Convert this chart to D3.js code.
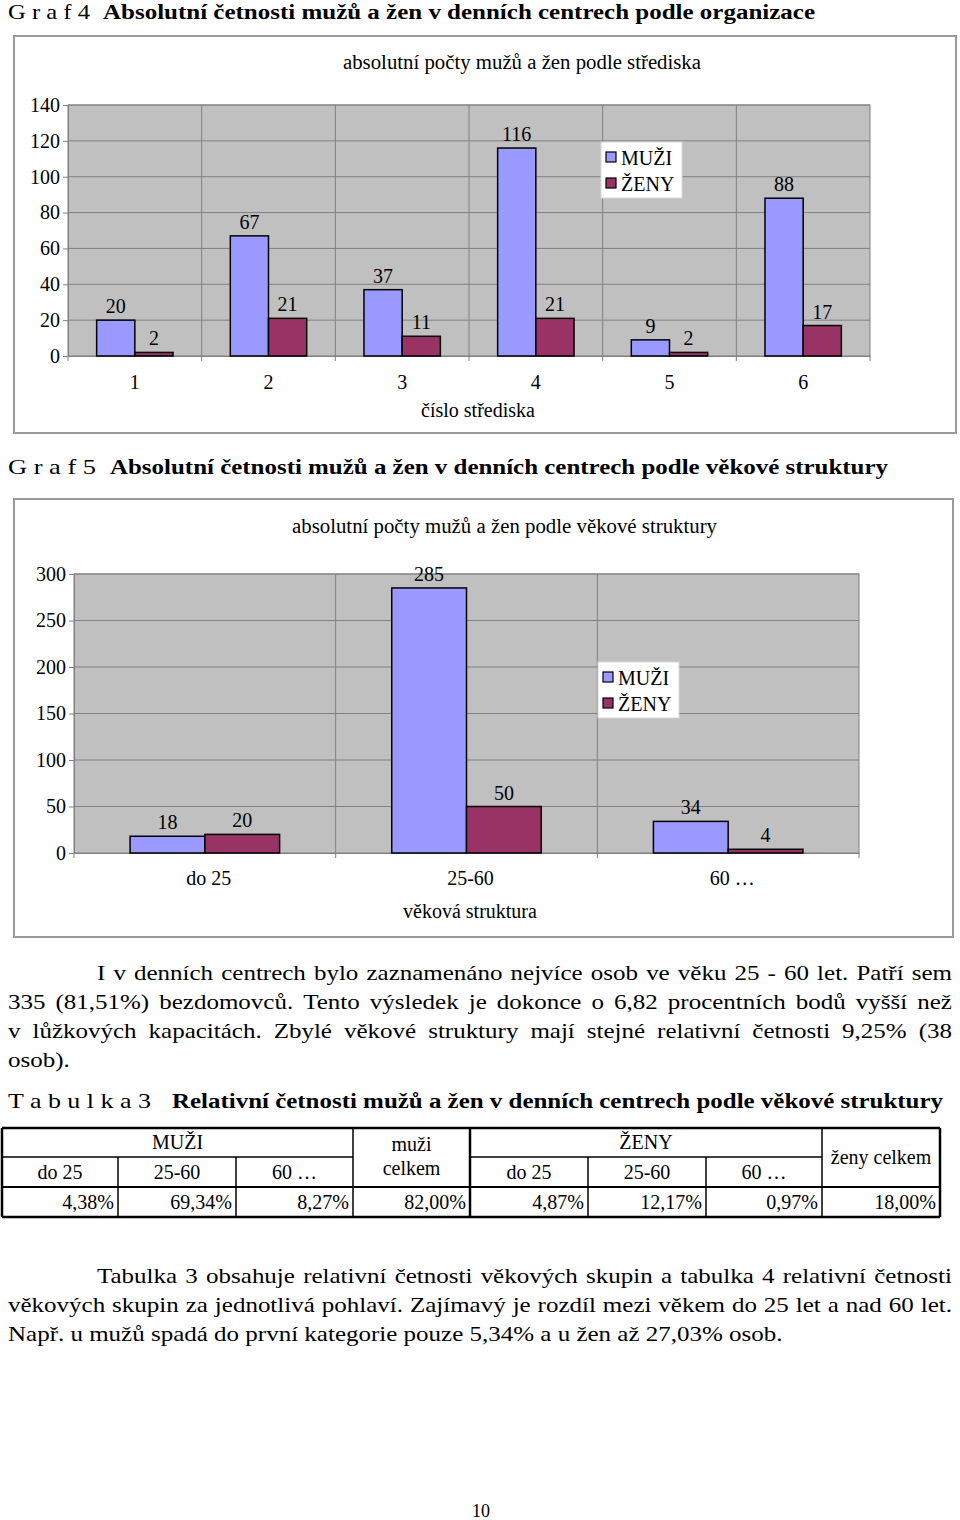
<!DOCTYPE html>
<html>
<head>
<meta charset="utf-8">
<script src="https://cdn.jsdelivr.net/npm/d3@7"></script>
<style>
  body { margin: 0; background: #fff; }
  #page { position: relative; width: 960px; height: 1520px; overflow: hidden; }
  svg { position: absolute; left: 0; top: 0; }
</style>
</head>
<body>
<div id="page"></div>
<script>
// --- data ---
const strediska = ['1', '2', '3', '4', '5', '6'];
const muziStredisko = [20, 67, 37, 116, 9, 88];
const zenyStredisko = [2, 21, 11, 21, 2, 17];

const vekoveSkupiny = ['do 25', '25-60', '60 …'];
const muziVek = [18, 285, 34];
const zenyVek = [20, 50, 4];

const serie = ['MUŽI', 'ŽENY'];

const tabulkaSkupiny = ['do 25', '25-60', '60 …'];
const tabulkaMuzi = ['4,38%', '69,34%', '8,27%'];
const tabulkaMuziCelkem = '82,00%';
const tabulkaZeny = ['4,87%', '12,17%', '0,97%'];
const tabulkaZenyCelkem = '18,00%';

const odstavec1 = [
  'I v denních centrech bylo zaznamenáno nejvíce osob ve věku 25 - 60 let. Patří sem',
  '335 (81,51%) bezdomovců. Tento výsledek je dokonce o 6,82 procentních bodů vyšší než',
  'v lůžkových kapacitách. Zbylé věkové struktury mají stejné relativní četnosti 9,25% (38',
  'osob).'
];
const odstavec2 = [
  'Tabulka 3 obsahuje relativní četnosti věkových skupin a tabulka 4 relativní četnosti',
  'věkových skupin za jednotlivá pohlaví. Zajímavý je rozdíl mezi věkem do 25 let a nad 60 let.',
  'Např. u mužů spadá do první kategorie pouze 5,34% a u žen až 27,03% osob.'
];

const font = '"Liberation Serif", "Times New Roman", Tinos, serif';
const colMuzi = '#9999FF';
const colZeny = '#993366';

const page = d3.select('#page');
const svg = page.append('svg').attr('width', 960).attr('height', 1520)
  .style('font-family', font);

// nadpisy (text v originale je vodorovne roztazeny)
const nadpis = (y, lead, leadEnd, boldX, bold, boldEnd) => {
  svg.append('text').attr('x', 8).attr('y', y).attr('font-size', 21)
    .attr('textLength', leadEnd - 8).attr('lengthAdjust', 'spacingAndGlyphs').text(lead);
  svg.append('text').attr('x', boldX).attr('y', y).attr('font-size', 20).attr('font-weight', 'bold')
    .attr('textLength', boldEnd - boldX).attr('lengthAdjust', 'spacingAndGlyphs').text(bold);
};
nadpis(19, 'G r a f 4', 90, 103, 'Absolutní četnosti mužů a žen v denních centrech podle organizace', 815);
nadpis(474, 'G r a f  5', 96, 110, 'Absolutní četnosti mužů a žen v denních centrech podle věkové struktury', 888);
nadpis(1108, 'T a b u l k a 3', 151, 172, 'Relativní četnosti mužů a žen v denních centrech podle věkové struktury', 943);

const drawChart = (cfg) => {
  const g = svg.append('g');

  g.append('rect')
    .attr('x', cfg.frame[0]).attr('y', cfg.frame[1])
    .attr('width', cfg.frame[2] - cfg.frame[0]).attr('height', cfg.frame[3] - cfg.frame[1])
    .attr('fill', '#fff').attr('stroke', '#9a9a9a').attr('stroke-width', 2);

  const x = d3.scaleBand().domain(cfg.cats).range([cfg.plot[0], cfg.plot[2]]);
  const xs = d3.scaleBand().domain(serie).range([0, x.bandwidth()]).paddingOuter(0.75);
  const y = d3.scaleLinear().domain([0, cfg.yMax]).range([cfg.plot[3], cfg.plot[1]]);
  const yTicks = d3.range(0, cfg.yMax + 1, cfg.yStep);

  // plocha grafu
  g.append('rect')
    .attr('x', cfg.plot[0]).attr('y', cfg.plot[1])
    .attr('width', cfg.plot[2] - cfg.plot[0]).attr('height', cfg.plot[3] - cfg.plot[1])
    .attr('fill', '#C0C0C0').attr('stroke', '#808080').attr('stroke-width', 1);

  g.selectAll('.hgrid')
    .data(yTicks.slice(1))
    .join('line')
      .attr('class', 'hgrid')
      .attr('x1', cfg.plot[0]).attr('x2', cfg.plot[2])
      .attr('y1', d => y(d)).attr('y2', d => y(d))
      .attr('stroke', '#808080').attr('stroke-width', 1);

  g.selectAll('.vgrid')
    .data(cfg.cats.slice(1))
    .join('line')
      .attr('class', 'vgrid')
      .attr('x1', d => x(d)).attr('x2', d => x(d))
      .attr('y1', cfg.plot[1]).attr('y2', cfg.plot[3])
      .attr('stroke', '#808080').attr('stroke-width', 1);

  // osa y
  const axisY = g.append('g')
    .attr('transform', `translate(${cfg.plot[0]},0)`)
    .call(d3.axisLeft(y).tickValues(yTicks).tickSize(5).tickPadding(3).tickSizeOuter(0));
  axisY.select('.domain').attr('stroke', '#808080');
  axisY.selectAll('.tick line').attr('stroke', '#808080');
  axisY.selectAll('.tick text').attr('font-family', font).attr('font-size', 20).attr('fill', '#000');

  // osa x
  const axisX = g.append('g')
    .attr('transform', `translate(0,${cfg.plot[3]})`)
    .call(d3.axisBottom(x).tickSize(0).tickPadding(cfg.catPad).tickSizeOuter(0));
  axisX.select('.domain').attr('stroke', '#808080');
  axisX.selectAll('.tick text').attr('font-family', font).attr('font-size', 20)
    .attr('fill', '#000').attr('dx', cfg.catDx);

  g.selectAll('.xtick')
    .data(cfg.cats.concat(['end']))
    .join('line')
      .attr('class', 'xtick')
      .attr('x1', d => d === 'end' ? cfg.plot[2] : x(d))
      .attr('x2', d => d === 'end' ? cfg.plot[2] : x(d))
      .attr('y1', cfg.plot[3]).attr('y2', cfg.plot[3] + 5)
      .attr('stroke', '#808080');

  // sloupce
  const rows = [];
  cfg.cats.forEach((c, i) => {
    rows.push({ cat: c, s: 'MUŽI', v: cfg.muzi[i] });
    rows.push({ cat: c, s: 'ŽENY', v: cfg.zeny[i] });
  });

  g.selectAll('.bar')
    .data(rows)
    .join('rect')
      .attr('class', 'bar')
      .attr('x', d => x(d.cat) + xs(d.s))
      .attr('y', d => y(d.v))
      .attr('width', xs.bandwidth())
      .attr('height', d => y(0) - y(d.v))
      .attr('fill', d => d.s === 'MUŽI' ? colMuzi : colZeny)
      .attr('stroke', '#000').attr('stroke-width', 1.5);

  g.selectAll('.val')
    .data(rows)
    .join('text')
      .attr('class', 'val')
      .attr('x', d => x(d.cat) + xs(d.s) + xs.bandwidth() / 2)
      .attr('y', d => y(d.v) - 7)
      .attr('text-anchor', 'middle')
      .attr('font-size', 20)
      .text(d => d.v);

  // titulky
  g.append('text').attr('x', cfg.titlePos[0]).attr('y', cfg.titlePos[1])
    .attr('font-size', 20).attr('textLength', cfg.titlePos[2] - cfg.titlePos[0])
    .attr('lengthAdjust', 'spacingAndGlyphs').text(cfg.title);
  g.append('text').attr('x', cfg.xTitlePos[0]).attr('y', cfg.xTitlePos[1])
    .attr('text-anchor', 'middle').attr('font-size', 20).text(cfg.xTitle);

  // legenda
  const lg = g.append('g').attr('transform', `translate(${cfg.legend[0]},${cfg.legend[1]})`);
  lg.append('rect').attr('width', 81).attr('height', 56)
    .attr('fill', '#fff').attr('stroke', '#d8d8d8').attr('stroke-width', 1);
  serie.forEach((s, i) => {
    lg.append('rect').attr('x', 5).attr('y', 10 + i * 26).attr('width', 10).attr('height', 10)
      .attr('fill', s === 'MUŽI' ? colMuzi : colZeny).attr('stroke', '#000').attr('stroke-width', 1.2);
    lg.append('text').attr('x', 20).attr('y', 23 + i * 26).attr('font-size', 20).text(s);
  });
};

drawChart({
  frame: [14, 36, 956, 433],
  plot: [68, 105, 870, 356],
  cats: strediska, muzi: muziStredisko, zeny: zenyStredisko,
  yMax: 140, yStep: 20, catPad: 19, catDx: 0,
  title: 'absolutní počty mužů a žen podle střediska', titlePos: [343, 69, 701],
  xTitle: 'číslo střediska', xTitlePos: [478, 417],
  legend: [601, 142]
});

drawChart({
  frame: [14, 499, 953, 937],
  plot: [74, 574, 859, 853],
  cats: vekoveSkupiny, muzi: muziVek, zeny: zenyVek,
  yMax: 300, yStep: 50, catPad: 18, catDx: 4,
  title: 'absolutní počty mužů a žen podle věkové struktury', titlePos: [292, 533, 717],
  xTitle: 'věková struktura', xTitlePos: [470, 918],
  legend: [598, 662]
});

// tabulka
const colX = [2, 118, 236, 353, 470, 588, 706, 822, 940];
const rowY = [1128, 1157, 1187, 1217];
const tg = svg.append('g').attr('font-size', 20);
const hLine = (x1, x2, yy, w) => tg.append('line').attr('x1', x1).attr('x2', x2)
  .attr('y1', yy).attr('y2', yy).attr('stroke', '#000').attr('stroke-width', w);
const vLine = (xx, y1, y2, w) => tg.append('line').attr('x1', xx).attr('x2', xx)
  .attr('y1', y1).attr('y2', y2).attr('stroke', '#000').attr('stroke-width', w);

hLine(colX[0], colX[8], rowY[0], 2.5);
hLine(colX[0], colX[3], rowY[1], 1.5);
hLine(colX[4], colX[7], rowY[1], 1.5);
hLine(colX[0], colX[8], rowY[2], 2);
hLine(colX[0], colX[8], rowY[3], 2.5);
colX.forEach((cx, i) => {
  const outer = i === 0 || i === 8 || i === 4;
  if (i === 0 || i === 3 || i === 4 || i === 7 || i === 8) vLine(cx, rowY[0], rowY[3], outer ? 2.5 : 1.5);
  else vLine(cx, rowY[1], rowY[3], 1.5);
});

const cellText = (txt, xx, yy, anchor) => tg.append('text').attr('x', xx).attr('y', yy)
  .attr('text-anchor', anchor).attr('dominant-baseline', 'central').text(txt);

cellText('MUŽI', (colX[0] + colX[3]) / 2, 1142, 'middle');
cellText('ŽENY', (colX[4] + colX[7]) / 2, 1142, 'middle');
cellText('muži', (colX[3] + colX[4]) / 2, 1144, 'middle');
cellText('celkem', (colX[3] + colX[4]) / 2, 1168, 'middle');
cellText('ženy celkem', (colX[7] + colX[8]) / 2, 1157, 'middle');
tabulkaSkupiny.forEach((s, i) => {
  cellText(s, (colX[i] + colX[i + 1]) / 2, 1172, 'middle');
  cellText(s, (colX[i + 4] + colX[i + 5]) / 2, 1172, 'middle');
});
tabulkaMuzi.concat([tabulkaMuziCelkem], tabulkaZeny, [tabulkaZenyCelkem]).forEach((v, i) => {
  cellText(v, colX[i + 1] - 4, 1202, 'end');
});

// odstavce: slova rozmistena do bloku (zarovnani do bloku), text vodorovne roztazeny
const roztah = 1.19;
const odstavec = (lines, baseline) => {
  lines.forEach((ln, i) => {
    const left = i === 0 ? 97 : 8;
    const right = 952;
    const last = i === lines.length - 1;
    const words = ln.split(' ');
    const lg = svg.append('g').attr('font-size', 21);
    const nodes = words.map(w => lg.append('text').attr('y', 0).text(w));
    const widths = nodes.map(n => n.node().getComputedTextLength());
    const space = lg.append('text').text('a a').node().getComputedTextLength()
      - lg.append('text').text('aa').node().getComputedTextLength();
    lg.selectAll('text').filter(function() { return !nodes.some(n => n.node() === this); }).remove();
    const sum = d3.sum(widths);
    let s = roztah;
    const avail = (right - left) / s;
    let gap = last ? space : (avail - sum) / (words.length - 1);
    if (!last && gap < space * 0.6) {
      gap = space * 0.6;
      s = (right - left) / (sum + gap * (words.length - 1));
    }
    let pos = 0;
    nodes.forEach((n, k) => { n.attr('x', pos); pos += widths[k] + gap; });
    lg.attr('transform', `translate(${left},${baseline + i * 29}) scale(${s},1)`);
  });
};
odstavec(odstavec1, 980);
odstavec(odstavec2, 1283);

svg.append('text').attr('x', 481).attr('y', 1517).attr('text-anchor', 'middle')
  .attr('font-size', 18).text('10');
</script>
</body>
</html>
